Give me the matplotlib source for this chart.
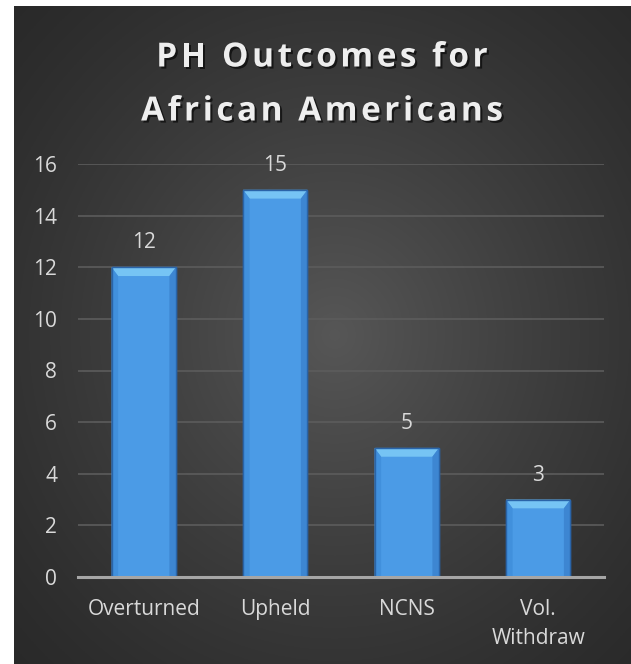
import matplotlib
matplotlib.use("Agg")
import matplotlib.pyplot as plt
import matplotlib.patheffects as pe
from matplotlib.patches import Polygon, Rectangle
from matplotlib.font_manager import FontProperties
import numpy as np

categories = ["Overturned", "Upheld", "NCNS", "Vol.\nWithdraw"]
counts = [12, 15, 5, 3]
yticks = [0, 2, 4, 6, 8, 10, 12, 14, 16]
title_lines = ["PH Outcomes for", "African Americans"]

W, H = 631, 664
fig = plt.figure(figsize=(W / 100, H / 100), dpi=100)
fig.patch.set_facecolor("white")

# dark panel with soft radial light in the middle
bg = fig.add_axes([14 / W, 0, 1 - 14 / W, 1 - 6 / H])
yy, xx = np.mgrid[0:1:400j, 0:1:400j]
r = np.sqrt(((xx - 0.52) / 0.75) ** 2 + ((yy - 0.50) / 0.75) ** 2)
shade = np.clip(1 - r, 0, 1) ** 1.3
base = np.array([0.16, 0.16, 0.16])
top = np.array([0.34, 0.34, 0.34])
img = base + (top - base) * shade[..., None]
bg.imshow(img, extent=[0, 1, 0, 1], aspect="auto", origin="lower")
bg.set_axis_off()

ax = fig.add_axes([78 / W, 87 / H, (604 - 78) / W, (577 - 164) / H])
ax.set_facecolor("none")
ax.set_xlim(-0.5, 3.5)
ax.set_ylim(0, 16)

x = np.arange(len(categories))
bw = 0.49
ax.bar(x, counts, width=bw, color="#4b9be6", edgecolor="#2a64a8",
       linewidth=1.0, zorder=3)

# bevel on each bar: bright top strip plus slightly darker side strips
bev_y = 0.34
bev_x = 0.05
for xi, v in zip(x, counts):
    l, r_ = xi - bw / 2, xi + bw / 2
    ax.add_patch(Polygon([(l, v), (r_, v), (r_ - bev_x, v - bev_y), (l + bev_x, v - bev_y)],
                         closed=True, facecolor="#76c4f4", edgecolor="none", zorder=4))
    ax.add_patch(Polygon([(l, v), (l + bev_x, v - bev_y), (l + bev_x, 0), (l, 0)],
                         closed=True, facecolor="#4190dc", edgecolor="none", zorder=4))
    ax.add_patch(Polygon([(r_, v), (r_ - bev_x, v - bev_y), (r_ - bev_x, 0), (r_, 0)],
                         closed=True, facecolor="#3d86d2", edgecolor="none", zorder=4))
    ax.add_patch(Rectangle((l, 0), bw, v, facecolor="none", edgecolor="#2a64a8",
                           linewidth=1.0, zorder=5))
    ax.annotate(str(v), (xi, v), xytext=(0, 10), textcoords="offset points",
                ha="center", va="bottom", color="#d9d9d9", fontsize=15,
                family="Open Sans")

ax.set_yticks(yticks)
ax.set_yticklabels([str(t) for t in yticks])
ax.set_xticks(x)
ax.set_xticklabels(categories, linespacing=1.5)
ax.grid(axis="y", color="#5c5c5c", linewidth=1.2, zorder=0)
ax.set_axisbelow(True)
for s in ["top", "right", "left"]:
    ax.spines[s].set_visible(False)
ax.spines["bottom"].set_color("#a6a6a6")
ax.spines["bottom"].set_linewidth(2.2)
ax.spines["bottom"].set_zorder(6)
ax.tick_params(axis="both", length=0, colors="#d9d9d9", labelsize=15)
ax.tick_params(axis="y", pad=15)
ax.tick_params(axis="x", pad=16)
for t in ax.get_xticklabels() + ax.get_yticklabels():
    t.set_family("Open Sans")

# title drawn letter by letter to get the wide tracking
renderer = fig.canvas.get_renderer()
tprop = FontProperties(family="Open Sans", weight="bold", size=24)
tracking = 3.5  # px between letters
shadow = [pe.withSimplePatchShadow(offset=(1.5, -1.5), shadow_rgbFace="black", alpha=0.6)]
for line, y_px in zip(title_lines, [54, 108]):
    widths = [renderer.get_text_width_height_descent(ch, tprop, ismath=False)[0]
              for ch in line]
    total = sum(widths) + tracking * (len(line) - 1)
    cx = 322 - total / 2
    for ch, w in zip(line, widths):
        if ch != " ":
            fig.text(cx / W, 1 - y_px / H, ch, ha="left", va="center_baseline",
                     color="#eeeeee", fontproperties=tprop, path_effects=shadow)
        cx += w + tracking

fig.savefig("out.png", dpi=100, facecolor=fig.get_facecolor())
